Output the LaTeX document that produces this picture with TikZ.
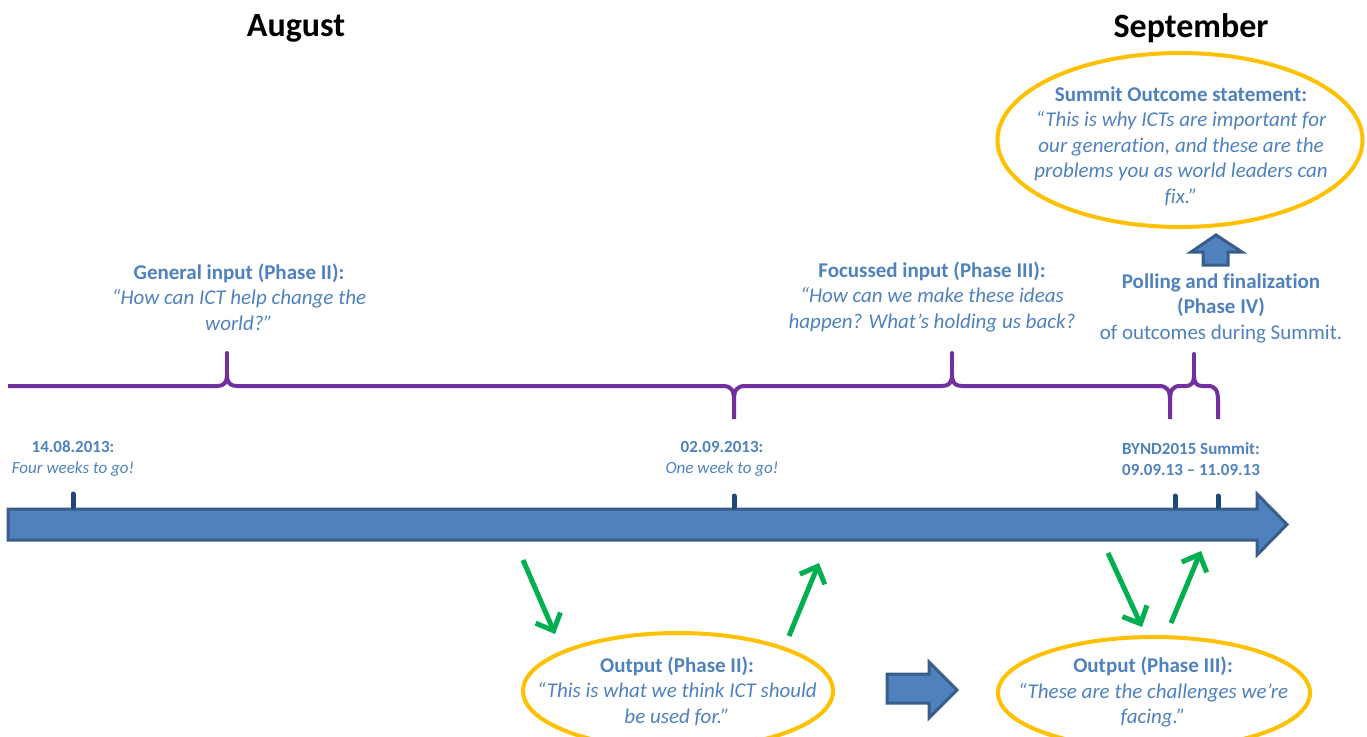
\documentclass[tikz,border=0pt]{standalone}
\usepackage{fontspec}
\setmainfont{Carlito}[Ligatures=NoCommon]
\usetikzlibrary{arrows.meta,shapes.geometric}
\definecolor{txtblue}{RGB}{79,129,189}
\definecolor{arrfill}{RGB}{79,129,189}
\definecolor{arrline}{RGB}{56,93,138}
\definecolor{tickblue}{RGB}{31,73,125}
\definecolor{bracepurple}{RGB}{112,48,160}
\definecolor{ellgold}{RGB}{255,192,0}
\definecolor{arrgreen}{RGB}{0,176,80}
\tikzset{
  lbl/.style={text=txtblue, align=center, inner sep=0pt, font=\fontsize{21}{25.5}\selectfont},
  smalllbl/.style={text=txtblue, align=center, inner sep=0pt, font=\fontsize{17}{21}\selectfont},
  month/.style={text=black, inner sep=0pt, font=\bfseries\fontsize{34}{40}\selectfont},
  bubble/.style={ellipse, draw=ellgold, line width=4pt, inner sep=0pt},
  bracepath/.style={draw=bracepurple, line width=4pt, line join=round},
  spike/.style={draw=bracepurple, line width=4pt, line cap=round},
  tickmark/.style={draw=tickblue, line width=5pt, line cap=round},
  greenarr/.style={draw=arrgreen, line width=5pt, -{Straight Barb[length=14pt,width=27pt,line width=5pt]}},
  blockarrow/.style={fill=arrfill, draw=arrline, line width=3pt, line join=miter}
}
\begin{document}
\begin{tikzpicture}[x=1pt,y=-1pt]
\useasboundingbox (0,0) rectangle (1367,736);
\clip (0,0) rectangle (1367,736);

% month titles
\node[month] (aug) at (296,28) {August};
\node[month] (sep) at (1191,28) {September};

% Summit outcome bubble
\node[bubble, minimum width=365pt, minimum height=174pt] (sumell) at (1180,140) {};
\node[lbl] (sumtxt) at (1181,146) {\textbf{Summit Outcome statement:}\\\itshape “This is why ICTs are important for\\\itshape our generation, and these are the\\\itshape problems you as world leaders can\\\itshape fix.”};

% up block arrow
\draw[blockarrow] (1216,235) -- (1242,252) -- (1228,252) -- (1228,265) -- (1203,265) -- (1203,252) -- (1191,252) -- cycle;

% phase labels
\node[lbl] (gen) at (239,297) {\textbf{General input (Phase II):}\\\itshape “How can ICT help change the\\\itshape world?”};
\node[lbl] (foc) at (932,297) {\textbf{Focussed input (Phase III):}\\\itshape “How can we make these ideas\\\itshape happen? What’s holding us back?};
\node[lbl] (poll) at (1221,308) {\textbf{Polling and finalization}\\\textbf{(Phase IV)}\\of outcomes during Summit.};

% braces
\draw[bracepath] (8,386) -- (217,386) .. controls (224,386) and (227,383) .. (227,374) .. controls (227,383) and (230,386) .. (237,386) -- (723,386) .. controls (731,386) and (734,390) .. (734,400) -- (734,419);
\draw[spike] (227,376) -- (227,353);
\draw[bracepath] (734,400) .. controls (734,390) and (737,386) .. (745,386) -- (942,386) .. controls (949,386) and (952,383) .. (952,374) .. controls (952,383) and (955,386) .. (962,386) -- (1159,386) .. controls (1167,386) and (1170,390) .. (1170,400) -- (1170,419);
\draw[spike] (952,376) -- (952,353);
\draw[bracepath] (1170,400) .. controls (1170,390) and (1173,386) .. (1180,386) -- (1186,386) .. controls (1191,386) and (1194,383) .. (1194,376) .. controls (1194,383) and (1197,386) .. (1202,386) -- (1208,386) .. controls (1215,386) and (1218,390) .. (1218,400) -- (1218,419);
\draw[spike] (1194,377) -- (1194,354);

% date labels
\node[smalllbl] (d1) at (73,459) {\textbf{14.08.2013:}\\\itshape Four weeks to go!};
\node[smalllbl] (d2) at (722,459) {\textbf{02.09.2013:}\\\itshape One week to go!};
\node[smalllbl] (d3) at (1191,459) {\textbf{BYND2015 Summit:}\\\textbf{09.09.13 – 11.09.13}};

% main timeline arrow
\draw[blockarrow] (8,509) -- (1257,509) -- (1257,494) -- (1287,524.5) -- (1257,555) -- (1257,540) -- (8,540) -- cycle;

% ticks
\draw[tickmark] (73,494) -- (73,507);
\draw[tickmark] (734,496) -- (734,507);
\draw[tickmark] (1175,496) -- (1175,507);
\draw[tickmark] (1218,496) -- (1218,507);

% output bubbles
\node[bubble, minimum width=310pt, minimum height=116pt] (out2ell) at (678,691) {};
\node[lbl] (out2txt) at (677,691) {\textbf{Output (Phase II):}\\\itshape “This is what we think ICT should\\\itshape be used for.”};
\node[bubble, minimum width=312pt, minimum height=112pt] (out3ell) at (1154,693) {};
\node[lbl] (out3txt) at (1153,692) {\textbf{Output (Phase III):}\\\itshape “These are the challenges we’re\\\itshape facing.”};

% right block arrow
\draw[blockarrow] (887,674) -- (929,674) -- (929,662) -- (957,690) -- (929,718) -- (929,703) -- (887,703) -- cycle;

% green arrows
\coordinate (g1s) at (523,560); \coordinate (g1e) at (555,634);
\coordinate (g2s) at (789,636); \coordinate (g2e) at (819,563);
\coordinate (g3s) at (1108,553); \coordinate (g3e) at (1142,627);
\coordinate (g4s) at (1171,623); \coordinate (g4e) at (1201,551);
\draw[greenarr] (g1s) -- (g1e);
\draw[greenarr] (g2s) -- (g2e);
\draw[greenarr] (g3s) -- (g3e);
\draw[greenarr] (g4s) -- (g4e);
\end{tikzpicture}
\end{document}
